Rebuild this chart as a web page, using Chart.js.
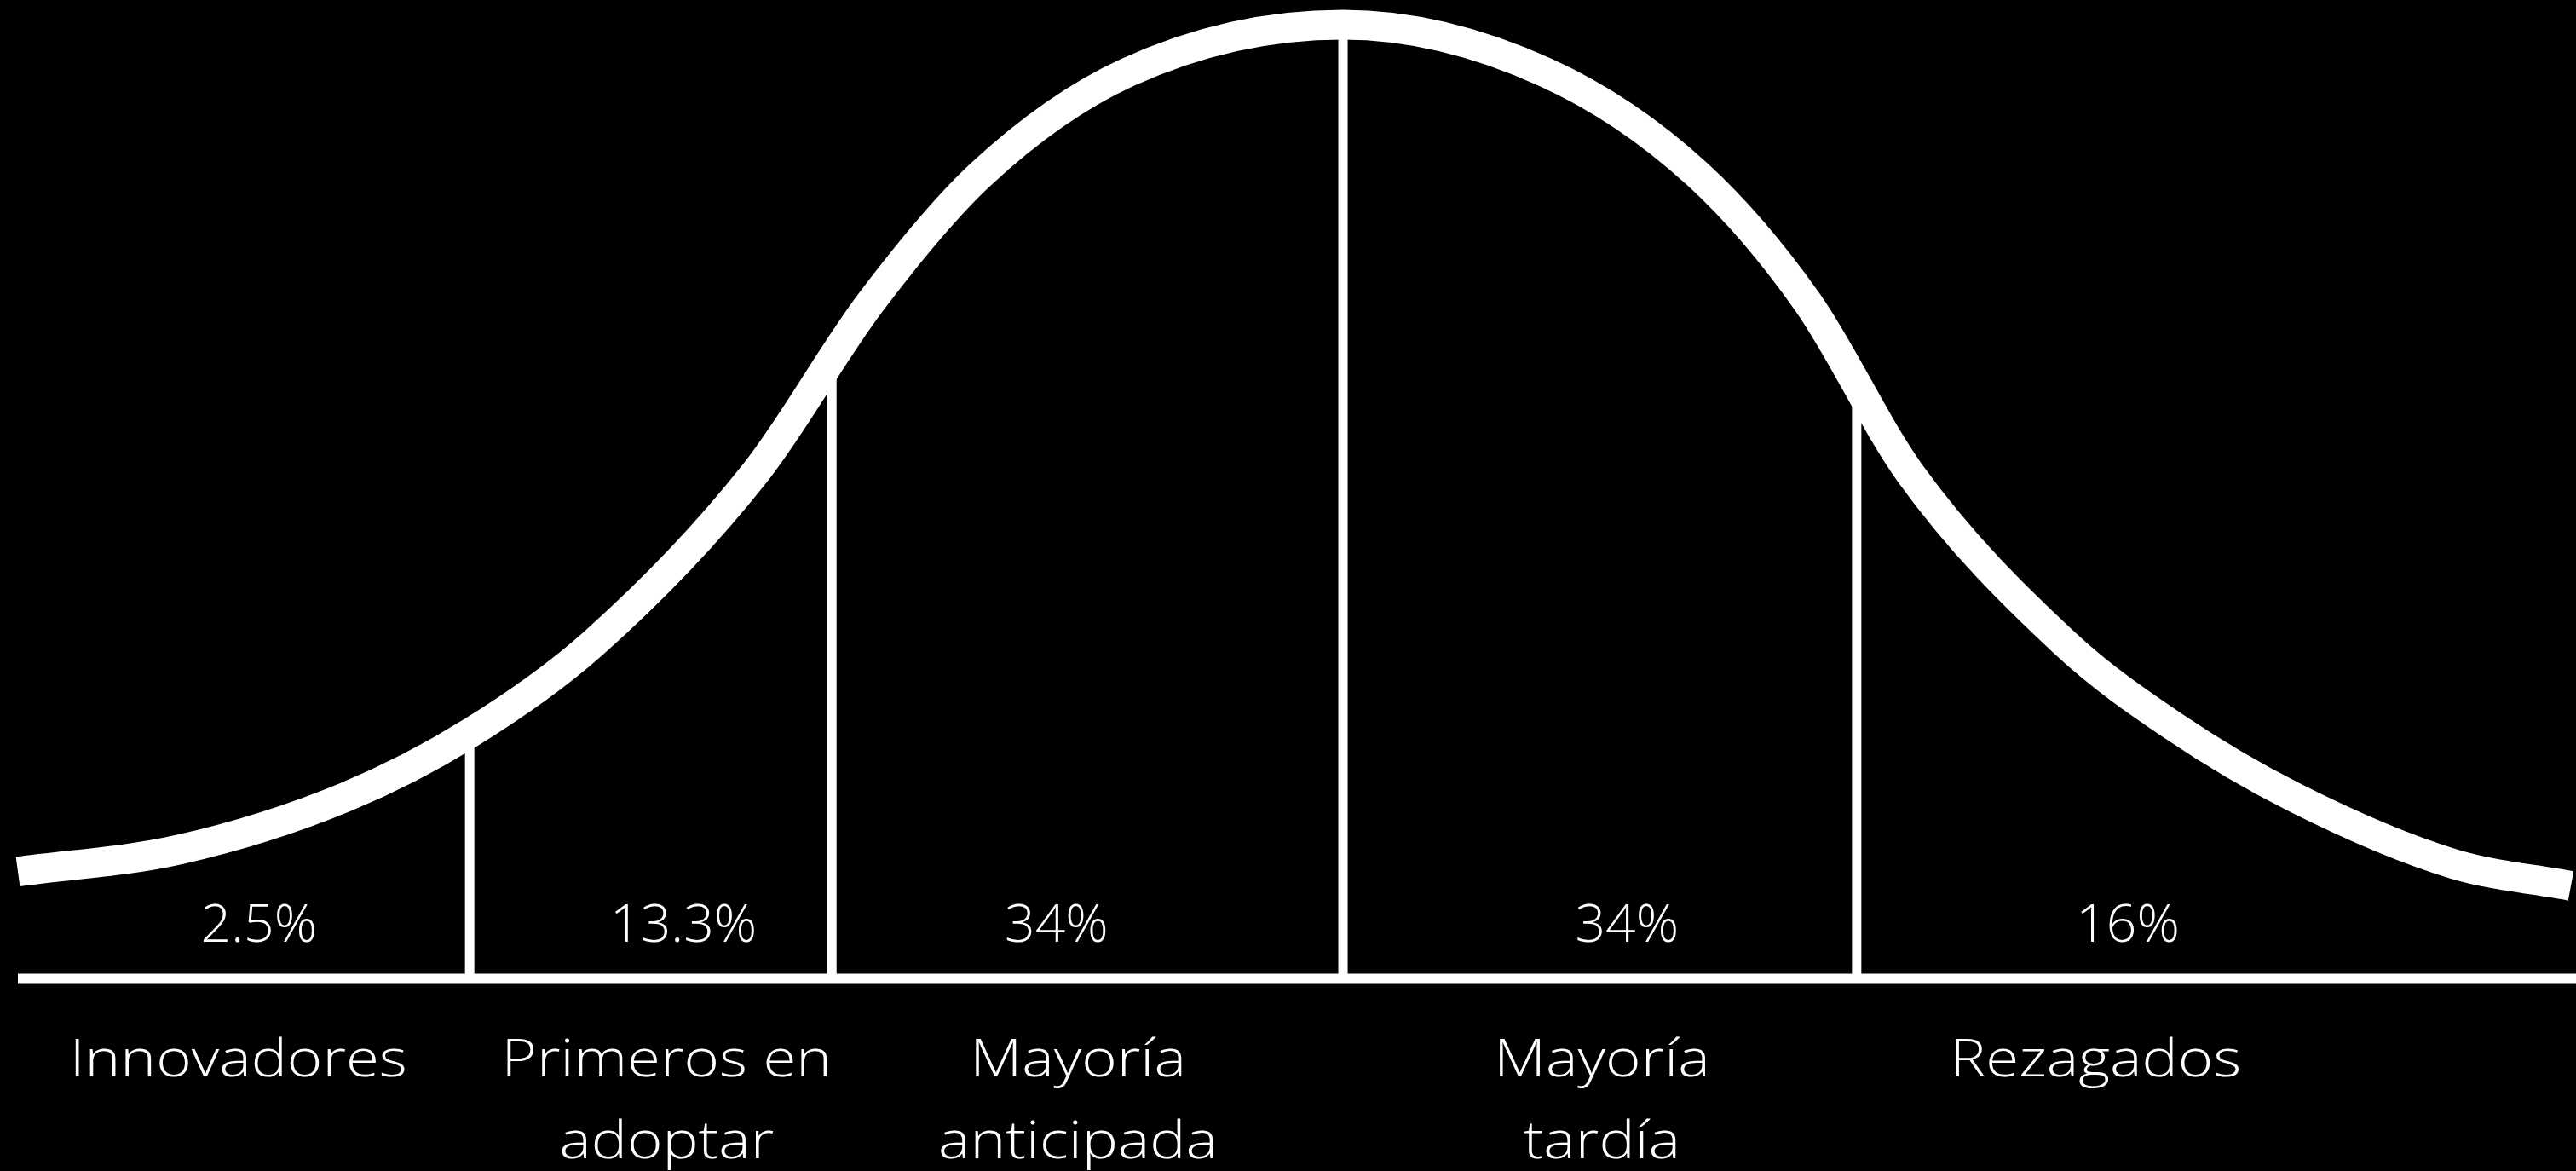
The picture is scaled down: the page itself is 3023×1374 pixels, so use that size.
<!DOCTYPE html>
<html>
<head>
<meta charset="utf-8">
<script src="https://cdn.jsdelivr.net/npm/chart.js@4/dist/chart.umd.min.js"></script>
<style>
  html, body { margin: 0; padding: 0; background: #000; }
  #wrap { width: 3023px; height: 1374px; }
</style>
</head>
<body>
<div id="wrap"><canvas id="c" width="3023" height="1374"></canvas></div>
<script>
// ---- Data (x in standard-deviation-like units, y in % of peak height) ----
const curveX = [-2.59, -2.275, -1.95, -1.707, -1.466, -1.149, -0.923, -0.708, -0.421, 0, 0.396, 0.693, 0.908, 1.108, 1.412, 1.622, 1.859, 2.171, 2.40];
const curveY = [11.2, 13.5, 19.0, 25.7, 35.1, 53.0, 70.9, 84.3, 95.0, 100, 95.0, 84.3, 70.9, 53.0, 35.1, 26.5, 19.0, 12.0, 9.7];
const dividerX = [-1.707, -0.999, 0, 1.004];
const dividerTop = [25.7, 64.8, 100, 62.2];
const axisRange = [-2.59, 2.41];
const shares = ["2.5%", "13.3%", "34%", "34%", "16%"];
const categories = [["Innovadores"], ["Primeros en", "adoptar"], ["Mayoría", "anticipada"], ["Mayoría", "tardía"], ["Rezagados"]];

// ---- Text anchors (layout, x in axis units) ----
const shareAnchorX = [-2.119, -1.289, -0.560, 0.555, 1.534];
const categoryAnchorX = [-2.159, -1.322, -0.518, 0.506, 1.471];

const datasets = [];
datasets.push({
  data: curveX.map((x, i) => ({ x, y: curveY[i] })),
  borderColor: '#fff', borderWidth: 35, pointRadius: 0,
  cubicInterpolationMode: 'monotone', fill: false, clip: false, order: 0
});
dividerX.forEach((x, i) => {
  datasets.push({
    data: [{ x, y: 0 }, { x, y: dividerTop[i] }],
    borderColor: '#fff', borderWidth: 11, pointRadius: 0, clip: false, order: 1
  });
});
datasets.push({
  data: [{ x: axisRange[0], y: 0 }, { x: axisRange[1], y: 0 }],
  borderColor: '#fff', borderWidth: 11, pointRadius: 0, clip: false, order: 1
});

function stretchedText(ctx, text, x, y, sx) {
  ctx.save();
  ctx.translate(x, y);
  ctx.scale(sx, 1);
  ctx.fillText(text, 0, 0);
  ctx.restore();
}

const textPlugin = {
  id: 'texts',
  afterDatasetsDraw(chart) {
    const ctx = chart.ctx;
    const xs = chart.scales.x, ys = chart.scales.y;
    const base = ys.getPixelForValue(0);
    ctx.save();
    ctx.fillStyle = '#fff';
    ctx.textAlign = 'center';
    ctx.textBaseline = 'alphabetic';
    ctx.font = "300 60px 'Open Sans'";
    shares.forEach((t, i) => {
      stretchedText(ctx, t, xs.getPixelForValue(shareAnchorX[i]), base - 43, 1.04);
    });
    categories.forEach((lines, i) => {
      lines.forEach((ln, j) => {
        stretchedText(ctx, ln, xs.getPixelForValue(categoryAnchorX[i]), base + 115 + j * 96, 1.18);
      });
    });
    ctx.restore();
  }
};

new Chart(document.getElementById('c'), {
  type: 'line',
  data: { datasets },
  options: {
    responsive: false,
    animation: false,
    events: [],
    layout: { padding: { left: 21, right: 0, top: 29, bottom: 226 } },
    plugins: { legend: { display: false }, tooltip: { enabled: false } },
    scales: {
      x: { type: 'linear', min: axisRange[0], max: axisRange[1], display: false },
      y: { type: 'linear', min: 0, max: 100, display: false }
    }
  },
  plugins: [textPlugin]
});
</script>
</body>
</html>
